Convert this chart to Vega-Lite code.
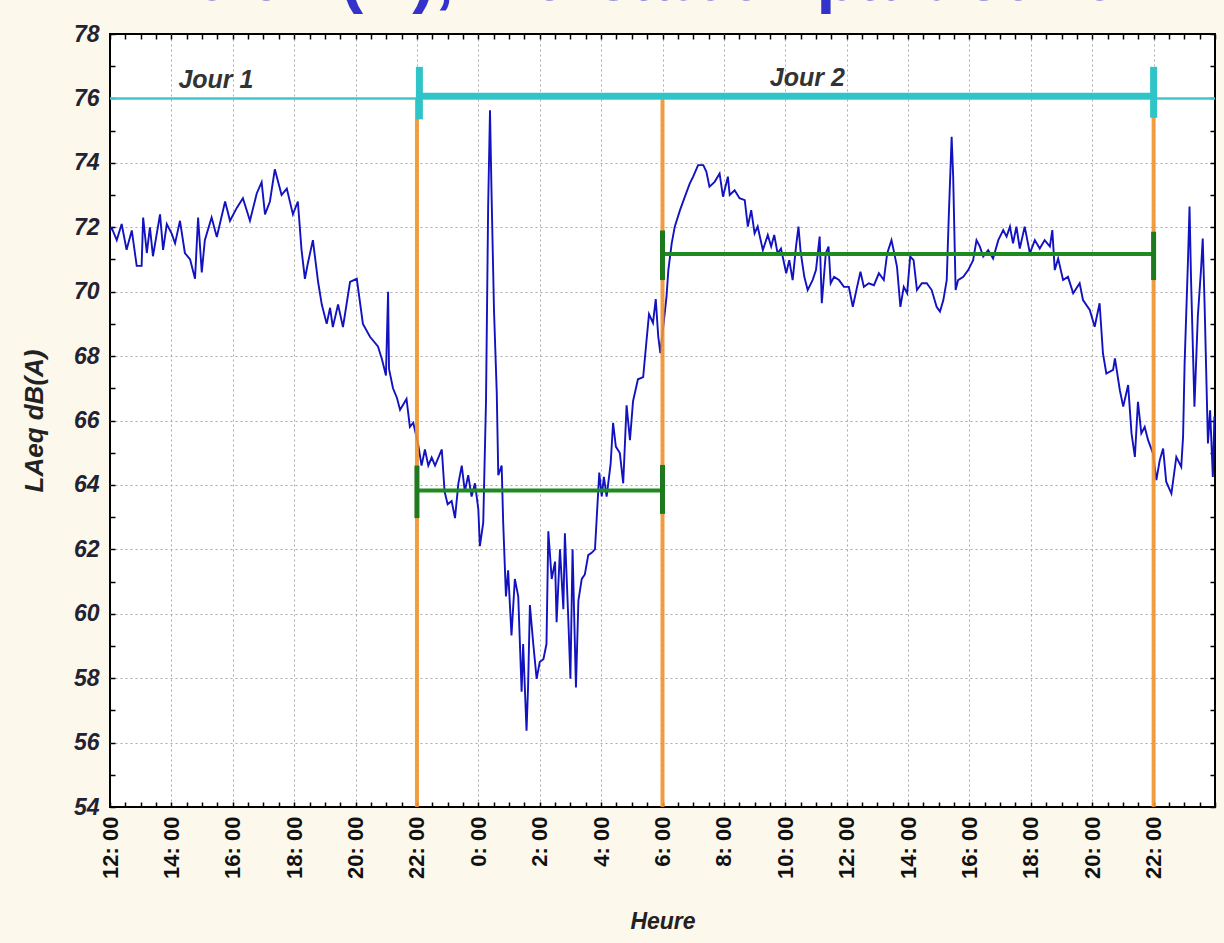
{
  "$schema": "https://vega.github.io/schema/vega-lite/v6.json",
  "width": 1105,
  "height": 773,
  "autosize": {"type": "none"},
  "padding": {"left": 110, "top": 34, "right": 9, "bottom": 136},
  "background": "#fcf8ec",
  "title": {"text": "Le dB(A), indicateur particulier", "font": "Liberation Sans", "fontSize": 68, "fontWeight": "bold", "color": "#3333cc", "anchor": "middle", "frame": "group", "offset": 0, "baseline": "alphabetic", "dx": -14, "dy": 45},
  "config": {"view": {"fill": "white", "stroke": "black", "strokeWidth": 2}},
  "datasets": {
    "laeq": [
      {"h":0.0,"db":71.9},{"h":0.06,"db":71.97},{"h":0.22,"db":71.6},{"h":0.38,"db":72.1},{"h":0.54,"db":71.3},{"h":0.71,"db":71.9},{"h":0.87,"db":70.8},{"h":1.03,"db":70.8},{"h":1.08,"db":72.3},{"h":1.2,"db":71.2},{"h":1.3,"db":72.0},{"h":1.4,"db":71.1},{"h":1.63,"db":72.4},{"h":1.73,"db":71.3},{"h":1.85,"db":72.1},{"h":2.01,"db":71.8},{"h":2.12,"db":71.5},{"h":2.28,"db":72.2},{"h":2.44,"db":71.2},{"h":2.61,"db":71.0},{"h":2.77,"db":70.4},{"h":2.87,"db":72.3},{"h":2.99,"db":70.6},{"h":3.09,"db":71.6},{"h":3.31,"db":72.3},{"h":3.48,"db":71.7},{"h":3.75,"db":72.8},{"h":3.91,"db":72.2},{"h":4.13,"db":72.6},{"h":4.33,"db":72.9},{"h":4.56,"db":72.2},{"h":4.78,"db":73.05},{"h":4.94,"db":73.4},{"h":5.05,"db":72.4},{"h":5.21,"db":72.8},{"h":5.37,"db":73.8},{"h":5.59,"db":73.0},{"h":5.76,"db":73.2},{"h":5.96,"db":72.4},{"h":6.12,"db":72.8},{"h":6.24,"db":71.3},{"h":6.35,"db":70.4},{"h":6.45,"db":70.9},{"h":6.61,"db":71.6},{"h":6.78,"db":70.3},{"h":6.9,"db":69.6},{"h":7.06,"db":69.0},{"h":7.17,"db":69.5},{"h":7.26,"db":68.9},{"h":7.43,"db":69.6},{"h":7.59,"db":68.9},{"h":7.82,"db":70.3},{"h":8.04,"db":70.4},{"h":8.24,"db":69.0},{"h":8.47,"db":68.6},{"h":8.73,"db":68.3},{"h":8.86,"db":67.9},{"h":8.99,"db":67.4},{"h":9.06,"db":70.0},{"h":9.09,"db":67.6},{"h":9.22,"db":67.0},{"h":9.35,"db":66.7},
      {"h":9.45,"db":66.33},{"h":9.66,"db":66.67},{"h":9.77,"db":65.8},{"h":9.88,"db":65.93},{"h":10.04,"db":65.26},{"h":10.15,"db":64.6},{"h":10.26,"db":65.1},{"h":10.37,"db":64.6},{"h":10.48,"db":64.85},{"h":10.59,"db":64.6},{"h":10.81,"db":65.1},{"h":10.9,"db":63.8},{"h":11.0,"db":63.4},{"h":11.13,"db":63.5},{"h":11.24,"db":62.97},{"h":11.35,"db":64.05},{"h":11.46,"db":64.6},{"h":11.56,"db":63.8},{"h":11.67,"db":64.3},{"h":11.78,"db":63.64},{"h":11.89,"db":64.05},{"h":12.0,"db":63.24},{"h":12.05,"db":62.1},{"h":12.16,"db":62.83},{"h":12.25,"db":66.6},{"h":12.32,"db":72.66},{"h":12.38,"db":75.63},{"h":12.43,"db":73.07},{"h":12.51,"db":69.43},{"h":12.6,"db":66.87},{"h":12.65,"db":64.3},{"h":12.76,"db":64.6},{"h":12.81,"db":62.83},{"h":12.9,"db":60.54},{"h":12.97,"db":61.35},{"h":13.08,"db":59.33},{"h":13.19,"db":61.08},{"h":13.3,"db":60.54},{"h":13.41,"db":57.58},{"h":13.46,"db":59.06},{"h":13.57,"db":56.37},{"h":13.62,"db":57.71},{"h":13.68,"db":60.27},{"h":13.79,"db":59.06},{"h":13.9,"db":57.98},{"h":14.0,"db":58.5},{"h":14.12,"db":58.59},{"h":14.22,"db":59.06},{"h":14.28,"db":62.56},{"h":14.39,"db":61.08},{"h":14.5,"db":61.62},{"h":14.55,"db":59.74},{"h":14.66,"db":62.0},{"h":14.77,"db":60.14},{"h":14.82,"db":62.5},{"h":14.93,"db":59.87},{"h":15.0,"db":57.98},{"h":15.07,"db":62.0},{"h":15.18,"db":57.71},{"h":15.26,"db":60.41},{"h":15.37,"db":61.08},{"h":15.47,"db":61.22},{"h":15.58,"db":61.82},{"h":15.69,"db":61.89},{"h":15.8,"db":62.0},{"h":15.88,"db":63.37},{"h":15.94,"db":64.38},{"h":16.02,"db":63.64},{"h":16.09,"db":64.25},{"h":16.18,"db":63.64},{"h":16.31,"db":64.65},{"h":16.39,"db":65.93},{"h":16.48,"db":65.19},{"h":16.61,"db":64.99},{"h":16.72,"db":64.05},{"h":16.83,"db":66.47},{"h":16.94,"db":65.39},{"h":17.04,"db":66.6},{"h":17.2,"db":67.28},{"h":17.37,"db":67.35},{"h":17.48,"db":68.49},{"h":17.56,"db":69.3},{"h":17.69,"db":69.03},{"h":17.78,"db":69.77},{"h":17.86,"db":68.62},{"h":17.93,"db":68.09},
      {"h":18.13,"db":69.84},{"h":18.19,"db":70.67},{"h":18.3,"db":71.5},{"h":18.4,"db":72.02},{"h":18.57,"db":72.53},{"h":18.73,"db":72.95},{"h":18.89,"db":73.36},{"h":19.0,"db":73.57},{"h":19.16,"db":73.93},{"h":19.33,"db":73.93},{"h":19.43,"db":73.72},{"h":19.53,"db":73.26},{"h":19.7,"db":73.41},{"h":19.86,"db":73.67},{"h":19.97,"db":72.95},{"h":20.13,"db":73.57},{"h":20.19,"db":73.0},{"h":20.35,"db":73.15},{"h":20.51,"db":72.9},{"h":20.68,"db":72.84},{"h":20.78,"db":72.02},{"h":20.89,"db":72.53},{"h":21.0,"db":71.81},{"h":21.1,"db":72.02},{"h":21.27,"db":71.29},{"h":21.43,"db":71.76},{"h":21.54,"db":71.4},{"h":21.64,"db":71.76},{"h":21.75,"db":71.19},{"h":21.86,"db":71.34},{"h":22.03,"db":70.57},{"h":22.13,"db":70.98},{"h":22.24,"db":70.36},{"h":22.35,"db":71.4},{"h":22.43,"db":72.02},{"h":22.5,"db":71.24},{"h":22.62,"db":70.46},{"h":22.73,"db":70.05},{"h":22.89,"db":70.36},{"h":23.0,"db":70.67},{"h":23.12,"db":71.71},{"h":23.19,"db":69.64},{"h":23.32,"db":71.19},{"h":23.41,"db":71.4},{"h":23.48,"db":70.26},{"h":23.59,"db":70.46},{"h":23.75,"db":70.36},{"h":23.91,"db":70.15},{"h":24.07,"db":70.15},{"h":24.2,"db":69.53},{"h":24.34,"db":70.15},{"h":24.45,"db":70.62},{"h":24.56,"db":70.15},{"h":24.72,"db":70.26},{"h":24.89,"db":70.2},{"h":25.05,"db":70.57},{"h":25.21,"db":70.36},{"h":25.32,"db":71.19},{"h":25.46,"db":71.6},{"h":25.53,"db":71.29},{"h":25.64,"db":70.77},{"h":25.75,"db":69.53},{"h":25.86,"db":70.15},{"h":25.97,"db":69.95},{"h":26.07,"db":71.09},{"h":26.18,"db":70.98},{"h":26.29,"db":70.05},{"h":26.45,"db":70.26},{"h":26.61,"db":70.26},{"h":26.77,"db":70.05},{"h":26.93,"db":69.53},{"h":27.04,"db":69.38},{"h":27.15,"db":69.74},{"h":27.26,"db":70.36},{"h":27.33,"db":72.43},{"h":27.42,"db":74.81},{"h":27.47,"db":73.57},{"h":27.55,"db":70.05},{"h":27.63,"db":70.36},{"h":27.8,"db":70.46},{"h":27.96,"db":70.67},{"h":28.12,"db":70.98},{"h":28.23,"db":71.6},{"h":28.34,"db":71.4},{"h":28.45,"db":71.09},{"h":28.61,"db":71.29},{"h":28.77,"db":71.03},{"h":28.94,"db":71.6},{"h":29.1,"db":71.91},{"h":29.21,"db":71.71},{"h":29.32,"db":72.02},{"h":29.42,"db":71.5},{"h":29.53,"db":72.02},{"h":29.64,"db":71.34},{"h":29.8,"db":72.02},{"h":29.97,"db":71.19},{"h":30.13,"db":71.6},
      {"h":30.29,"db":71.34},{"h":30.45,"db":71.6},{"h":30.62,"db":71.4},{"h":30.7,"db":71.91},{"h":30.78,"db":70.67},{"h":30.89,"db":71.03},{"h":31.05,"db":70.36},{"h":31.21,"db":70.46},{"h":31.38,"db":69.95},{"h":31.59,"db":70.26},{"h":31.7,"db":69.74},{"h":31.92,"db":69.43},{"h":32.08,"db":68.91},{"h":32.24,"db":69.64},{"h":32.35,"db":68.08},{"h":32.46,"db":67.46},{"h":32.68,"db":67.57},{"h":32.74,"db":67.93},{"h":32.9,"db":66.94},{"h":33.01,"db":66.43},{"h":33.17,"db":67.1},{"h":33.28,"db":65.6},{"h":33.39,"db":64.87},{"h":33.49,"db":66.58},{"h":33.6,"db":65.6},{"h":33.71,"db":65.8},{"h":33.82,"db":65.39},{"h":33.98,"db":64.98},{"h":34.09,"db":64.15},{"h":34.2,"db":64.77},{"h":34.31,"db":65.13},{"h":34.41,"db":64.1},{"h":34.58,"db":63.73},{"h":34.74,"db":64.87},{"h":34.9,"db":64.56},{"h":34.96,"db":65.5},{"h":35.01,"db":67.77},{"h":35.12,"db":70.98},{"h":35.17,"db":72.64},{"h":35.22,"db":70.36},{"h":35.33,"db":66.43},{"h":35.44,"db":69.22},{"h":35.55,"db":70.77},{"h":35.6,"db":71.65},{"h":35.66,"db":69.64},{"h":35.77,"db":65.29},{"h":35.84,"db":66.32},{"h":35.93,"db":64.25},{"h":35.98,"db":66.12}
    ]
  },
  "resolve": {"axis": {"x": "independent", "y": "independent"}},
  "layer": [
    {
      "data": {"name": "laeq"},
      "mark": {"type": "line", "color": "#1212c0", "strokeWidth": 1.9, "clip": true},
      "encoding": {
        "x": {"field": "h", "type": "quantitative", "scale": {"domain": [0, 36], "nice": false, "zero": false},
          "axis": {"orient": "bottom", "title": "Heure",
            "values": [0,0.5,1,1.5,2,2.5,3,3.5,4,4.5,5,5.5,6,6.5,7,7.5,8,8.5,9,9.5,10,10.5,11,11.5,12,12.5,13,13.5,14,14.5,15,15.5,16,16.5,17,17.5,18,18.5,19,19.5,20,20.5,21,21.5,22,22.5,23,23.5,24,24.5,25,25.5,26,26.5,27,27.5,28,28.5,29,29.5,30,30.5,31,31.5,32,32.5,33,33.5,34,34.5,35,35.5,36],
            "labelExpr": "(datum.value % 2 === 0 && datum.value <= 34) ? ((datum.value + 12) % 24) + ': 00' : ''",
            "labelAngle": 270, "labelFont": "Liberation Sans", "labelFontSize": 22, "labelFontWeight": "bold", "labelColor": "#111111",
            "labelPadding": 14, "labelOverlap": false, "labelFlush": false,
            "tickSize": -5, "tickColor": "black", "tickWidth": 1.5, "domain": false,
            "grid": true, "gridColor": "#aaaaaa", "gridDash": [2, 3], "gridWidth": 1,
            "gridOpacity": {"condition": {"test": "datum.value % 2 === 0 && datum.value > 0 && datum.value < 36", "value": 1}, "value": 0},
            "titleFont": "Liberation Sans", "titleFontSize": 23, "titleFontWeight": "bold", "titleFontStyle": "italic", "titleColor": "#222222", "titlePadding": 32}},
        "y": {"field": "db", "type": "quantitative", "scale": {"domain": [54, 78], "nice": false, "zero": false},
          "axis": {"orient": "left", "title": "LAeq dB(A)",
            "values": [54,55,56,57,58,59,60,61,62,63,64,65,66,67,68,69,70,71,72,73,74,75,76,77,78],
            "labelExpr": "datum.value % 2 === 0 ? datum.value : ''",
            "labelFont": "Liberation Sans", "labelFontSize": 23, "labelFontWeight": "bold", "labelFontStyle": "italic", "labelColor": "#222233",
            "labelPadding": 16, "labelFlush": false, "labelOverlap": false,
            "tickSize": -5, "tickColor": "black", "tickWidth": 1.5, "domain": false,
            "grid": true, "gridColor": "#aaaaaa", "gridDash": [2, 3], "gridWidth": 1,
            "gridOpacity": {"condition": {"test": "datum.value % 2 === 0 && datum.value > 54 && datum.value < 78", "value": 1}, "value": 0},
            "titleFont": "Liberation Sans", "titleFontSize": 26, "titleFontWeight": "bold", "titleFontStyle": "italic", "titleColor": "#222222", "titlePadding": 26}}
      }
    },
    {
      "data": {"values": [{"x": 10}, {"x": 18}, {"x": 34}]},
      "mark": {"type": "rule", "color": "#f0922c", "strokeWidth": 4, "opacity": 0.9},
      "encoding": {
        "x": {"field": "x", "type": "quantitative", "scale": {"domain": [0, 36], "nice": false, "zero": false}, "axis": null},
        "y": {"datum": 54, "type": "quantitative", "scale": {"domain": [54, 78], "nice": false, "zero": false}, "axis": null},
        "y2": {"datum": 76}
      }
    },
    {
      "data": {"values": [{"a": 0, "b": 36, "y": 76}]},
      "mark": {"type": "rule", "color": "#3cc8cc", "strokeWidth": 2.5},
      "encoding": {
        "x": {"field": "a", "type": "quantitative", "scale": {"domain": [0, 36], "nice": false, "zero": false},
          "axis": {"orient": "top", "title": null, "labels": false, "grid": false, "domain": false, "tickSize": -5, "tickColor": "black", "tickWidth": 1.5,
            "values": [0,0.5,1,1.5,2,2.5,3,3.5,4,4.5,5,5.5,6,6.5,7,7.5,8,8.5,9,9.5,10,10.5,11,11.5,12,12.5,13,13.5,14,14.5,15,15.5,16,16.5,17,17.5,18,18.5,19,19.5,20,20.5,21,21.5,22,22.5,23,23.5,24,24.5,25,25.5,26,26.5,27,27.5,28,28.5,29,29.5,30,30.5,31,31.5,32,32.5,33,33.5,34,34.5,35,35.5,36]}},
        "x2": {"field": "b"},
        "y": {"field": "y", "type": "quantitative", "scale": {"domain": [54, 78], "nice": false, "zero": false},
          "axis": {"orient": "right", "title": null, "labels": false, "grid": false, "domain": false, "tickSize": -5, "tickColor": "black", "tickWidth": 1.5,
            "values": [54,55,56,57,58,59,60,61,62,63,64,65,66,67,68,69,70,71,72,73,74,75,76,77,78]}}
      }
    },
    {
      "data": {"values": [{"a": 10.08, "b": 34, "y": 76.08}]},
      "mark": {"type": "rule", "color": "#2ec4c8", "strokeWidth": 6},
      "encoding": {
        "x": {"field": "a", "type": "quantitative", "scale": {"domain": [0, 36], "nice": false, "zero": false}, "axis": null},
        "x2": {"field": "b"},
        "y": {"field": "y", "type": "quantitative", "scale": {"domain": [54, 78], "nice": false, "zero": false}, "axis": null}
      }
    },
    {
      "data": {"values": [{"x": 10.08, "y1": 75.35, "y2": 76.98}, {"x": 34.0, "y1": 75.4, "y2": 76.98}]},
      "mark": {"type": "rule", "color": "#2ec4c8", "strokeWidth": 7},
      "encoding": {
        "x": {"field": "x", "type": "quantitative", "scale": {"domain": [0, 36], "nice": false, "zero": false}, "axis": null},
        "y": {"field": "y1", "type": "quantitative", "scale": {"domain": [54, 78], "nice": false, "zero": false}, "axis": null},
        "y2": {"field": "y2"}
      }
    },
    {
      "data": {"values": [{"a": 10, "b": 18, "y": 63.83}, {"a": 18, "b": 34, "y": 71.17}]},
      "mark": {"type": "rule", "color": "#1f8a1f", "strokeWidth": 4},
      "encoding": {
        "x": {"field": "a", "type": "quantitative", "scale": {"domain": [0, 36], "nice": false, "zero": false}, "axis": null},
        "x2": {"field": "b"},
        "y": {"field": "y", "type": "quantitative", "scale": {"domain": [54, 78], "nice": false, "zero": false}, "axis": null}
      }
    },
    {
      "data": {"values": [{"x": 10, "y1": 62.97, "y2": 64.6}, {"x": 18, "y1": 63.1, "y2": 64.62}, {"x": 18, "y1": 70.36, "y2": 71.9}, {"x": 34, "y1": 70.36, "y2": 71.86}]},
      "mark": {"type": "rule", "color": "#1f7a1f", "strokeWidth": 5},
      "encoding": {
        "x": {"field": "x", "type": "quantitative", "scale": {"domain": [0, 36], "nice": false, "zero": false}, "axis": null},
        "y": {"field": "y1", "type": "quantitative", "scale": {"domain": [54, 78], "nice": false, "zero": false}, "axis": null},
        "y2": {"field": "y2"}
      }
    },
    {
      "data": {"values": [{"h": 3.45, "db": 76.57, "t": "Jour 1"}, {"h": 22.72, "db": 76.62, "t": "Jour 2"}]},
      "mark": {"type": "text", "font": "Liberation Sans", "fontSize": 25, "fontWeight": "bold", "fontStyle": "italic", "color": "#333333", "align": "center", "baseline": "middle"},
      "encoding": {
        "x": {"field": "h", "type": "quantitative", "scale": {"domain": [0, 36], "nice": false, "zero": false}, "axis": null},
        "y": {"field": "db", "type": "quantitative", "scale": {"domain": [54, 78], "nice": false, "zero": false}, "axis": null},
        "text": {"field": "t"}
      }
    }
  ]
}
